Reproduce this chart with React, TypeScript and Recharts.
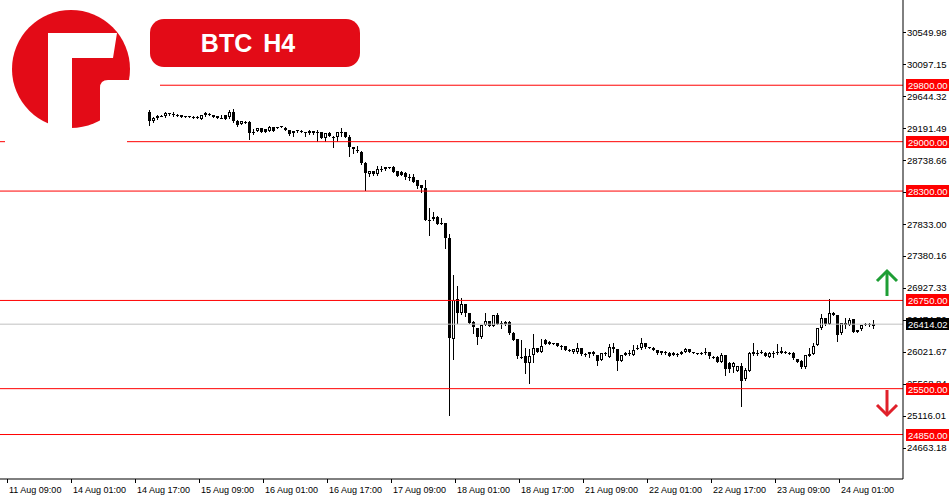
import React from 'react';
import { ComposedChart, Bar, XAxis, YAxis, ReferenceLine } from 'recharts';

// time axis labels, one every 16 hourly bars starting at slot 0
const timeLabels = [
    '11 Aug 09:00', '14 Aug 01:00', '14 Aug 17:00', '15 Aug 09:00', '16 Aug 01:00',
    '16 Aug 17:00', '17 Aug 09:00', '18 Aug 01:00', '18 Aug 17:00', '21 Aug 09:00',
    '22 Aug 01:00', '22 Aug 17:00', '23 Aug 09:00', '24 Aug 01:00',
];

const priceTicks = [
    30549.98, 30097.15, 29644.32, 29191.49, 28738.66, 28285.83, 27833.0,
    27380.16, 26927.33, 26474.5, 26021.67, 25568.84, 25116.01, 24663.18,
];

const levels = [29800, 29000, 28300, 26750, 25500, 24850];
const currentPrice = 26414.02;

const opens = [
    29420, 29293, 29336, 29368, 29364, 29402, 29392, 29371, 29371, 29354,
    29357, 29343, 29343, 29326, 29402, 29388, 29378, 29364, 29336, 29374,
    29345, 29425, 29297, 29250, 29283, 29283, 29137, 29155, 29189, 29175,
    29155, 29203, 29212, 29222, 29198, 29165, 29118, 29165, 29151, 29141,
    29118, 29151, 29141, 29132, 29048, 29127, 29070, 29062, 29132, 29132,
    29070, 28920, 28882, 28858, 28702, 28537, 28585, 28537, 28613, 28608,
    28645, 28645, 28585, 28575, 28561, 28504, 28504, 28457, 28386, 28348,
    27890, 27900, 27937, 27843, 27843, 27630, 26200, 26766, 26576, 26700,
    26568, 26449, 26355, 26227, 26402, 26459, 26388, 26540, 26426, 26412,
    26449, 26293, 26200, 25953, 25963, 25868, 25977, 26072, 26024, 26190,
    26133, 26151, 26142, 26105, 26105, 26048, 26015, 26015, 26072, 25987,
    25987, 26024, 25977, 25906, 26001, 25953, 26095, 26058, 25892, 25977,
    26010, 25977, 26072, 26072, 26142, 26095, 26081, 26048, 26034, 26015,
    26010, 26010, 25987, 25991, 26024, 26062, 26015, 26001, 26010, 26024,
    26015, 25944, 25953, 25882, 25977, 25868, 25802, 25754, 25821, 25632,
    25754, 26015, 26010, 26024, 26010, 25953, 26001, 26024, 26010, 26020,
    26001, 26010, 25916, 25896, 25802, 25963, 25991, 26119, 26355, 26496,
    26416, 26576, 26544, 26284, 26426, 26402, 26482, 26331, 26341, 26416,
    26416, 26388,
];

const highs = [
    29449, 29354, 29378, 29374, 29425, 29402, 29416, 29399, 29378, 29364,
    29364, 29364, 29368, 29382, 29420, 29406, 29382, 29368, 29378, 29378,
    29449, 29459, 29303, 29297, 29297, 29288, 29175, 29198, 29194, 29180,
    29226, 29208, 29215, 29225, 29203, 29170, 29155, 29168, 29170, 29144,
    29161, 29155, 29165, 29141, 29127, 29132, 29076, 29137, 29189, 29137,
    29095, 28929, 28939, 28863, 28707, 28588, 28588, 28655, 28655, 28641,
    28648, 28650, 28589, 28580, 28566, 28537, 28537, 28461, 28391, 28457,
    28060, 28003, 27942, 27923, 27847, 27692, 27111, 26955, 26780, 26704,
    26572, 26454, 26360, 26406, 26568, 26463, 26544, 26576, 26463, 26454,
    26454, 26298, 26204, 26190, 26072, 26058, 26275, 26076, 26200, 26204,
    26171, 26154, 26147, 26119, 26109, 26062, 26062, 26151, 26076, 26005,
    26024, 26029, 25981, 26005, 26024, 26133, 26142, 26062, 25981, 26015,
    26048, 26119, 26119, 26214, 26147, 26097, 26086, 26052, 26038, 26034,
    26015, 26015, 26005, 26029, 26072, 26067, 26020, 26005, 26024, 26072,
    26020, 25963, 25958, 26001, 25981, 25873, 25873, 25825, 25868, 25788,
    26015, 26151, 26048, 26048, 26015, 26015, 26034, 26133, 26086, 26034,
    26015, 26015, 25920, 25902, 25977, 26072, 26142, 26360, 26558, 26501,
    26766, 26582, 26548, 26430, 26496, 26496, 26487, 26336, 26406, 26430,
    26435, 26473,
];

const lows = [
    29236, 29283, 29317, 29364, 29354, 29378, 29368, 29364, 29345, 29350,
    29350, 29340, 29340, 29321, 29370, 29374, 29350, 29331, 29333, 29321,
    29331, 29283, 29226, 29246, 29269, 29038, 29104, 29151, 29137, 29137,
    29151, 29151, 29194, 29203, 29161, 29099, 29080, 29144, 29132, 29080,
    29113, 29113, 29010, 29048, 29014, 29076, 28920, 29014, 29080, 29066,
    28801, 28835, 28858, 28688, 28315, 28514, 28532, 28532, 28589, 28603,
    28623, 28570, 28514, 28523, 28467, 28457, 28429, 28348, 28283, 27886,
    27678, 27894, 27829, 27833, 27498, 25127, 25916, 26435, 26554, 26530,
    26430, 26289, 26133, 26222, 26398, 26383, 26383, 26412, 26355, 26406,
    26279, 26185, 25939, 25930, 25726, 25585, 25882, 26020, 26020, 26128,
    26128, 26133, 26100, 26058, 26044, 26034, 26010, 26010, 25981, 25967,
    25953, 25981, 25835, 25902, 25977, 25949, 26024, 25765, 25887, 25973,
    25977, 25973, 26067, 26067, 26081, 26076, 26044, 25996, 25996, 25996,
    25963, 25973, 25967, 25987, 26020, 26020, 26001, 25996, 25996, 25991,
    25930, 25930, 25878, 25878, 25694, 25740, 25740, 25750, 25254, 25627,
    25750, 25981, 25977, 26005, 25958, 25949, 25953, 25996, 26005, 26005,
    25987, 25925, 25878, 25797, 25797, 25958, 25987, 26114, 26350, 26406,
    26412, 26539, 26180, 26279, 26355, 26398, 26303, 26303, 26336, 26402,
    26392, 26355,
];

const closes = [
    29293, 29336, 29364, 29370, 29406, 29401, 29390, 29385, 29350, 29357,
    29354, 29345, 29342, 29378, 29374, 29387, 29354, 29336, 29338, 29326,
    29425, 29297, 29236, 29293, 29282, 29127, 29141, 29189, 29141, 29141,
    29212, 29155, 29211, 29221, 29165, 29104, 29151, 29164, 29150, 29140,
    29155, 29118, 29140, 29056, 29118, 29080, 29048, 29132, 29131, 29070,
    28929, 28891, 28880, 28693, 28551, 28585, 28537, 28608, 28611, 28637,
    28644, 28575, 28518, 28528, 28504, 28502, 28433, 28372, 28339, 27890,
    27888, 27933, 27833, 27842, 27630, 26214, 26756, 26576, 26700, 26576,
    26435, 26369, 26227, 26402, 26459, 26388, 26540, 26416, 26425, 26449,
    26284, 26190, 25963, 25951, 25868, 25963, 26072, 26024, 26110, 26133,
    26166, 26150, 26105, 26104, 26048, 26047, 26058, 26072, 25987, 25986,
    26020, 25987, 25896, 26001, 26000, 26086, 26062, 25892, 25977, 26010,
    26009, 26048, 26071, 26142, 26086, 26094, 26048, 26001, 26001, 26014,
    25967, 25977, 25986, 26024, 26062, 26024, 26014, 26000, 26009, 26023,
    25963, 25943, 25882, 25977, 25779, 25774, 25868, 25821, 25613, 25765,
    26010, 25987, 26009, 26023, 25963, 26010, 26000, 26001, 26034, 26019,
    26000, 25930, 25882, 25802, 25973, 25991, 26105, 26355, 26496, 26412,
    26576, 26544, 26260, 26426, 26402, 26473, 26307, 26307, 26402, 26415,
    26414, 26414.02,
];

const SLOTS = 225;
const FIRST_BAR = 36;
const LABEL_STEP = 16;

const data = Array.from({ length: SLOTS }, (_, s) => {
    const k = s - FIRST_BAR;
    const has = k >= 0 && k < opens.length;
    return {
        s,
        range: has ? [lows[k], highs[k]] : null,
        open: has ? opens[k] : null,
        high: has ? highs[k] : null,
        low: has ? lows[k] : null,
        close: has ? closes[k] : null,
    };
});

const FONT = '"Liberation Sans", Arial, sans-serif';
const RED = '#ff0000';

// tags come after the plain ticks so they are painted on top of them
const axisTicks = [...priceTicks, ...levels, currentPrice];
const tagValues = new Set<number>([...levels, currentPrice]);

const Candle = (props: any) => {
    const { x, y, width, height, payload } = props;
    if (!payload || payload.open == null || height == null) return <g />;
    const { open, close, high, low } = payload;
    const cx = Math.round(x + width / 2);
    const py = (v: number) => Math.round(y + (height * (high - v)) / (high - low));
    const top = py(Math.max(open, close));
    const bot = py(Math.min(open, close));
    const hi = Math.round(y);
    const lo = Math.round(y + height);
    const bull = close > open;
    const body = bot - top;
    return (
        <g shapeRendering="crispEdges">
            <line x1={cx + 0.5} x2={cx + 0.5} y1={hi} y2={lo + 1} stroke="#000" />
            {body < 1 ? (
                <line x1={cx - 1} x2={cx + 2} y1={top + 0.5} y2={top + 0.5} stroke="#000" />
            ) : bull && body >= 2 ? (
                <rect x={cx - 0.5} y={top + 0.5} width={2} height={body - 1} fill="#fff" stroke="#000" />
            ) : (
                <rect x={cx - 1} y={top} width={3} height={body} fill="#000" />
            )}
        </g>
    );
};

const TimeTick = (props: any) => {
    const { x, y, payload } = props;
    const s = payload.value;
    if (s % LABEL_STEP !== 0) return <g />;
    const label = timeLabels[s / LABEL_STEP];
    if (!label) return <g />;
    const tx = Math.round(x) + 2;
    return (
        <g>
            <line x1={tx + 0.5} x2={tx + 0.5} y1={y} y2={y + 4} stroke="#000" shapeRendering="crispEdges" />
            <text x={tx + 2} y={y + 14} fontSize={9} fontFamily={FONT} fill="#000">{label}</text>
        </g>
    );
};

const PriceTick = (props: any) => {
    const { x, y, payload } = props;
    const v = Number(payload.value);
    if (tagValues.has(v)) {
        const by = Math.round(y);
        return (
            <g>
                <rect x={x + 3} y={by - 6} width={43} height={12} fill={v === currentPrice ? '#000' : RED} />
                <text x={x + 5} y={by + 4} fontSize={9.5} fontFamily={FONT} fill="#fff">{v.toFixed(2)}</text>
            </g>
        );
    }
    const ly = Math.round(y) + 0.5;
    return (
        <g>
            <line x1={x} x2={x + 3} y1={ly} y2={ly} stroke="#000" shapeRendering="crispEdges" />
            <text x={x + 4} y={y + 3.5} fontSize={9.5} fontFamily={FONT} fill="#000">{v.toFixed(2)}</text>
        </g>
    );
};

const Overlay = () => (
    <svg width={950} height={500} style={{ position: 'absolute', left: 0, top: 0, pointerEvents: 'none' }}>
        <rect x={0} y={0} width={160} height={100} fill="#fff" />
        <rect x={5} y={100} width={122} height={45} fill="#fff" />
        {/* logo */}
        <circle cx={71} cy={69} r={59} fill="#e30b17" />
        <path d="M48 33 L117 33 L113 58 L72 58 L72 130 L48 130 Z" fill="#fff" />
        <path d="M100 88 Q100 80 108 80 L132 80 L132 130 L100 130 Z" fill="#fff" />
        {/* title */}
        <rect x={150} y={19} width={210} height={48} rx={14} fill="#e30b17" />
        <text x={248} y={52} textAnchor="middle" fontSize={25} fontWeight="bold" fontFamily={FONT}
            fill="#fff" wordSpacing={4}>BTC H4</text>
        {/* arrows */}
        <g stroke="#1e9e35" strokeWidth={3} fill="none">
            <line x1={887} y1={296} x2={887} y2={271} />
            <polyline points="877,281 887,271 897,281" />
        </g>
        <g stroke="#e0202a" strokeWidth={3} fill="none">
            <line x1={887} y1={390} x2={887} y2={415} />
            <polyline points="877,405 887,415 897,405" />
        </g>
    </svg>
);

export default function App() {
    return (
        <div style={{ position: 'absolute', left: 0, top: 0, width: 950, height: 500, background: '#fff' }}>
            <ComposedChart width={950} height={500} data={data} margin={{ top: 0, right: 0, left: 0, bottom: 0 }}>
                <XAxis
                    dataKey="s"
                    type="category"
                    height={21}
                    padding={{ left: 3, right: 0 }}
                    interval={0}
                    tickSize={0}
                    tickMargin={0}
                    tickLine={false}
                    axisLine={{ stroke: '#000' }}
                    tick={<TimeTick />}
                />
                <YAxis
                    orientation="right"
                    type="number"
                    width={47}
                    domain={[24219.8, 31007.7]}
                    allowDataOverflow
                    ticks={axisTicks}
                    interval={0}
                    tickSize={0}
                    tickMargin={0}
                    tickLine={false}
                    axisLine={{ stroke: '#000' }}
                    tick={<PriceTick />}
                />
                <ReferenceLine y={currentPrice} stroke="#c0c0c0" />
                {levels.map((v) => (
                    <ReferenceLine key={v} y={v} stroke={RED} />
                ))}
                <Bar dataKey="range" shape={(p: any) => <Candle {...p} />} isAnimationActive={false} />
            </ComposedChart>
            <Overlay />
        </div>
    );
}
